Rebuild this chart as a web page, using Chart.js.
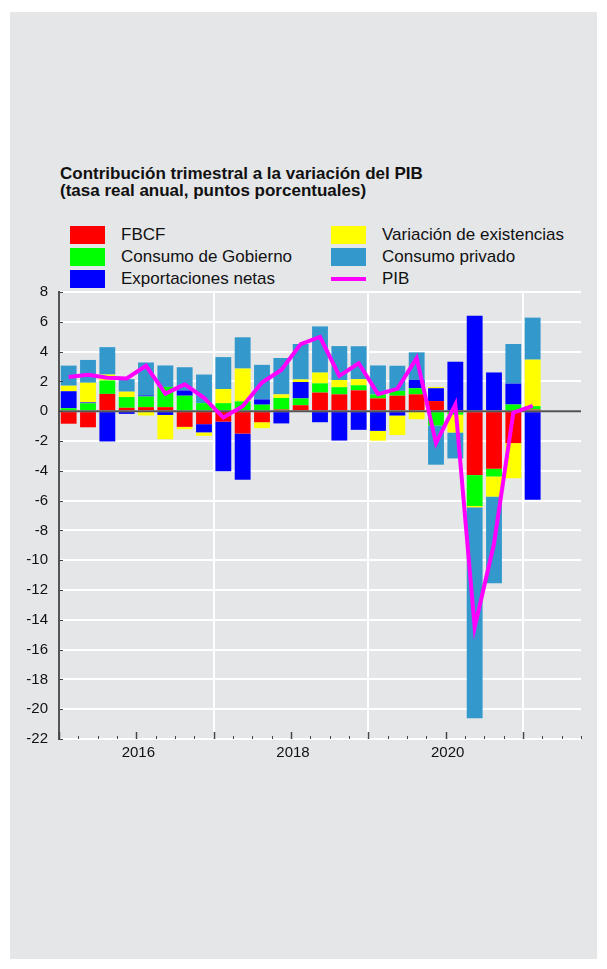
<!DOCTYPE html>
<html>
<head>
<meta charset="utf-8">
<script src="https://cdn.jsdelivr.net/npm/chart.js@4.4.1/dist/chart.umd.min.js"></script>
<style>
  body { margin: 0; background: #fff; font-family: "Liberation Sans", Arial, sans-serif; }
  #panel { position: absolute; left: 10px; top: 12px; width: 587px; height: 947px; background: #e5e6e8; }
  #title { position: absolute; left: 60px; top: 165px; font-weight: bold; font-size: 17px; line-height: 17px; color: #111; }
  .leg { position: absolute; height: 22px; font-size: 17px; color: #111; display: flex; align-items: center; white-space: nowrap; }
  .sw { width: 35px; height: 18px; margin-right: 16px; }
  #chart { position: absolute; left: 0; top: 0; }
</style>
</head>
<body>
<div id="panel"></div>
<div id="title">Contribución trimestral a la variación del PIB<br>(tasa real anual, puntos porcentuales)</div>
<div id="legend"></div>
<canvas id="chart" width="607" height="969"></canvas>
<script>
// trimestres 2015T1 .. 2021T3 (eje); datos hasta 2021T1
const quarters = [
  "2015T1", "2015T2", "2015T3", "2015T4",
  "2016T1", "2016T2", "2016T3", "2016T4",
  "2017T1", "2017T2", "2017T3", "2017T4",
  "2018T1", "2018T2", "2018T3", "2018T4",
  "2019T1", "2019T2", "2019T3", "2019T4",
  "2020T1", "2020T2", "2020T3", "2020T4",
  "2021T1", "2021T2", "2021T3"
];
const yearLabels = { 4: "2016", 12: "2018", 20: "2020" };

const fbcf = [-0.84, -1.08, 1.16, 0.23, 0.27, 0.27, -1.05, -0.87, -0.7, -1.5, -0.74, 0.11, 0.4, 1.25, 1.13, 1.4, 0.86, 1.04, 1.13, 0.68, 0, -4.29, -3.86, -2.14, 0.11];
const gobierno = [0.2, 0.53, 0.9, 0.72, 0.72, 1.36, 1.04, 0.54, 0.54, 0.66, 0.44, 0.78, 0.46, 0.62, 0.48, 0.34, 0.26, 0.32, 0.41, -0.96, -0.23, -2.07, -0.52, 0.45, 0.23];
const exportaciones = [1.14, 0.06, -2.03, -0.18, 0.07, -0.25, 0.35, -0.55, -3.33, -3.1, 0.35, -0.82, 1.1, -0.74, -1.97, -1.25, -1.32, -0.29, 0.56, 0.86, 3.32, 6.41, 2.6, 1.4, -5.95];
const existencias = [0.37, 1.32, 0.4, 0.36, -0.29, -1.63, -0.16, -0.23, 0.95, 2.2, -0.4, 0.24, 0.17, 0.72, 0.48, 0.41, -0.66, -1.31, -0.54, 0.09, -1.2, -0.09, -1.35, -2.36, 3.12];
const privado = [1.35, 1.53, 1.84, 0.84, 2.21, 1.44, 1.56, 1.92, 2.14, 2.1, 2.32, 2.44, 2.38, 3.1, 2.28, 2.21, 1.95, 1.69, 1.85, -2.63, -1.74, -14.16, -5.81, 2.66, 2.82];
const pib = [2.3, 2.44, 2.24, 2.2, 3.05, 1.18, 1.8, 0.9, -0.43, 0.33, 1.92, 2.77, 4.5, 4.98, 2.37, 3.22, 1.15, 1.5, 3.56, -2.14, 0.45, -14.5, -8.9, -0.1, 0.35];

const yTicks = [8, 6, 4, 2, 0, -2, -4, -6, -8, -10, -12, -14, -16, -18, -20, -22];

const series = [
  { label: "FBCF", data: fbcf, color: "#ff0000" },
  { label: "Consumo de Gobierno", data: gobierno, color: "#00ff00" },
  { label: "Exportaciones netas", data: exportaciones, color: "#0000ff" },
  { label: "Variación de existencias", data: existencias, color: "#ffff00" },
  { label: "Consumo privado", data: privado, color: "#3399cc" }
];

// leyenda en dos columnas (orden por columnas)
const legendItems = series.map(s => ({ label: s.label, color: s.color, line: false }))
  .concat([{ label: "PIB", color: "#ff00ff", line: true }]);
const legendEl = document.getElementById("legend");
legendItems.forEach((it, i) => {
  const col = Math.floor(i / 3), row = i % 3;
  const d = document.createElement("div");
  d.className = "leg";
  d.style.left = (col ? 331 : 70) + "px";
  d.style.top = (224 + row * 22) + "px";
  const sw = document.createElement("div");
  sw.className = "sw";
  if (it.line) {
    sw.style.height = "4px";
  }
  sw.style.background = it.color;
  d.appendChild(sw);
  d.appendChild(document.createTextNode(it.label));
  legendEl.appendChild(d);
});

const axisDecor = {
  id: "axisDecor",
  afterDatasetDraw(chart, args) {
    if (args.index !== 0) return;
    const { ctx, chartArea, scales } = chart;
    const y0 = scales.y.getPixelForValue(0);
    ctx.save();
    ctx.strokeStyle = "rgba(40,40,40,0.8)";
    ctx.lineWidth = 2;
    ctx.beginPath();
    ctx.moveTo(chartArea.left, y0);
    ctx.lineTo(chartArea.right, y0);
    ctx.stroke();
    ctx.restore();
  },
  afterDraw(chart) {
    const { ctx, chartArea, scales } = chart;
    const slot = (chartArea.right - chartArea.left) / quarters.length;
    ctx.save();
    ctx.strokeStyle = "#444";
    // marcas del eje x hacia dentro
    for (let i = 0; i <= quarters.length; i++) {
      const x = Math.round(chartArea.left + i * slot) + 0.5;
      const len = i % 4 === 0 ? 7 : 3;
      ctx.lineWidth = i % 4 === 0 ? 1.5 : 1;
      ctx.beginPath();
      ctx.moveTo(x, chartArea.bottom);
      ctx.lineTo(x, chartArea.bottom - len);
      ctx.stroke();
    }
    // marcas del eje y
    ctx.lineWidth = 1;
    yTicks.forEach(v => {
      const y = Math.round(scales.y.getPixelForValue(v)) + 0.5;
      ctx.beginPath();
      ctx.moveTo(chartArea.left, y);
      ctx.lineTo(chartArea.left + 4, y);
      ctx.stroke();
    });
    // etiquetas de año en el inicio de cada año
    ctx.fillStyle = "#111";
    ctx.font = "15px 'Liberation Sans', Arial, sans-serif";
    ctx.textAlign = "center";
    ctx.textBaseline = "middle";
    Object.keys(yearLabels).forEach(k => {
      const x = chartArea.left + Number(k) * slot + 2;
      ctx.fillText(yearLabels[k], x, chartArea.bottom + 14);
    });
    ctx.restore();
  }
};

new Chart(document.getElementById("chart"), {
  type: "bar",
  data: {
    labels: quarters,
    datasets: series.map(s => ({
      label: s.label,
      data: s.data,
      backgroundColor: s.color,
      borderWidth: 0,
      categoryPercentage: 1,
      barPercentage: 0.82
    })).concat([{
      type: "line",
      label: "PIB",
      data: pib,
      stack: "pib",
      order: -1,
      borderColor: "#ff00ff",
      borderWidth: 4,
      pointRadius: 0,
      tension: 0,
      fill: false
    }])
  },
  options: {
    responsive: false,
    animation: false,
    layout: { padding: { top: 292, bottom: 230, left: 0, right: 26 } },
    plugins: { legend: { display: false }, tooltip: { enabled: false } },
    scales: {
      x: {
        stacked: true,
        offset: true,
        afterFit: s => { s.height = 0; },
        grid: {
          offset: true,
          drawTicks: false,
          lineWidth: 2,
          color: c => (c.index === 8 || c.index === 16 || c.index === 24) ? "#ffffff" : "rgba(0,0,0,0)"
        },
        border: { display: false },
        ticks: { display: false }
      },
      y: {
        stacked: true,
        min: -22,
        max: 8,
        afterFit: s => { s.width = 59; },
        grid: { color: "#ffffff", lineWidth: 2, drawTicks: false },
        border: { display: true, color: "#555", width: 2 },
        ticks: {
          stepSize: 2,
          padding: 11,
          color: "#111",
          font: { family: "Liberation Sans, Arial, sans-serif", size: 15 }
        }
      }
    }
  },
  plugins: [axisDecor]
});
</script>
</body>
</html>
